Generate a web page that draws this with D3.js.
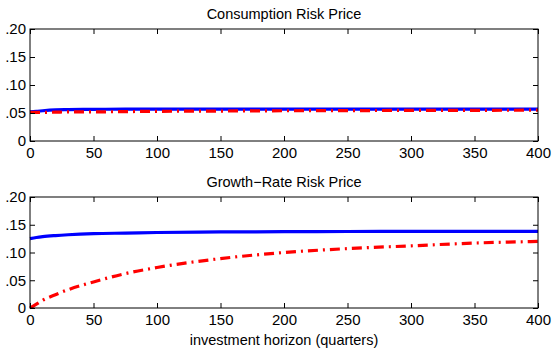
<!DOCTYPE html>
<html>
<head>
<meta charset="utf-8">
<script src="https://cdn.jsdelivr.net/npm/d3@7"></script>
<style>
  body { margin: 0; background: #fff; }
  text { font-family: "Liberation Sans", Arial, sans-serif; }
</style>
</head>
<body>
<svg id="chart" width="552" height="353"></svg>
<script>
// horizons (quarters)
const horizon = [0, 5, 10, 20, 30, 50, 75, 100, 150, 200, 250, 300, 350, 400];

// consumption risk price
const consSolid = [0.052, 0.053, 0.054, 0.0555, 0.056, 0.0565, 0.057, 0.057, 0.057, 0.057, 0.057, 0.057, 0.057, 0.057];
const consDash  = [0.051, 0.051, 0.051, 0.0515, 0.052, 0.052, 0.0525, 0.053, 0.0535, 0.054, 0.0543, 0.0546, 0.0548, 0.055];

// growth-rate risk price
const growSolid = [0.125, 0.127, 0.1285, 0.1305, 0.132, 0.134, 0.135, 0.136, 0.137, 0.1375, 0.1378, 0.138, 0.138, 0.138];
const growDash  = [0, 0.007, 0.014, 0.024, 0.033, 0.047, 0.062, 0.073, 0.089, 0.100, 0.107, 0.112, 0.117, 0.120];

const xTicks = [0, 50, 100, 150, 200, 250, 300, 350, 400];
const yTicks = [0, 0.05, 0.10, 0.15, 0.20];
const yLabels = ["0", ".05", ".10", ".15", ".20"];

const svg = d3.select("#chart");
const left = 30, right = 538;

const panels = [
  { title: "Consumption Risk Price", top: 29, bottom: 141, solid: consSolid, dash: consDash },
  { title: "Growth\u2212Rate Risk Price", top: 197, bottom: 308, solid: growSolid, dash: growDash }
];

panels.forEach(p => {
  const x = d3.scaleLinear().domain([0, 400]).range([left, right]);
  const y = d3.scaleLinear().domain([0, 0.2]).range([p.bottom, p.top]);
  const g = svg.append("g");

  const line = d3.line().x((d, i) => x(horizon[i])).y(d => y(d)).curve(d3.curveMonotoneX);

  g.append("path").datum(p.solid)
    .attr("d", line).attr("fill", "none")
    .attr("stroke", "#0000ff").attr("stroke-width", 3.2);

  g.append("path").datum(p.dash)
    .attr("d", line).attr("fill", "none")
    .attr("stroke", "#ff0000").attr("stroke-width", 3.2)
    .attr("stroke-dasharray", "10,5,2,5");

  // axes with inward ticks
  const tl = 5;
  g.append("g").attr("transform", `translate(0,${p.bottom})`)
    .call(d3.axisBottom(x).tickValues(xTicks).tickSizeInner(-tl).tickSizeOuter(0).tickPadding(6))
    .call(a => a.select(".domain").remove());
  g.append("g").attr("transform", `translate(0,${p.top})`)
    .call(d3.axisTop(x).tickValues(xTicks).tickSizeInner(-tl).tickSizeOuter(0).tickFormat(""))
    .call(a => a.select(".domain").remove());
  g.append("g").attr("transform", `translate(${left},0)`)
    .call(d3.axisLeft(y).tickValues(yTicks).tickSizeInner(-tl).tickSizeOuter(0).tickPadding(4)
      .tickFormat((d, i) => yLabels[i]))
    .call(a => a.select(".domain").remove());
  g.append("g").attr("transform", `translate(${right},0)`)
    .call(d3.axisRight(y).tickValues(yTicks).tickSizeInner(-tl).tickSizeOuter(0).tickFormat(""))
    .call(a => a.select(".domain").remove());

  g.selectAll(".tick text").attr("font-size", 15).attr("fill", "#000")
    .style("font-family", "'Liberation Sans', Arial, sans-serif");
  g.selectAll(".tick line").attr("stroke", "#000");

  g.append("rect")
    .attr("x", left).attr("y", p.top)
    .attr("width", right - left).attr("height", p.bottom - p.top)
    .attr("fill", "none").attr("stroke", "#000").attr("stroke-width", 1);

  g.append("text")
    .attr("x", (left + right) / 2).attr("y", p.top - 10)
    .attr("text-anchor", "middle").attr("font-size", 14.5)
    .text(p.title);
});

svg.append("text")
  .attr("x", (left + right) / 2).attr("y", 345)
  .attr("text-anchor", "middle").attr("font-size", 14.5)
  .text("investment horizon (quarters)");
</script>
</body>
</html>
